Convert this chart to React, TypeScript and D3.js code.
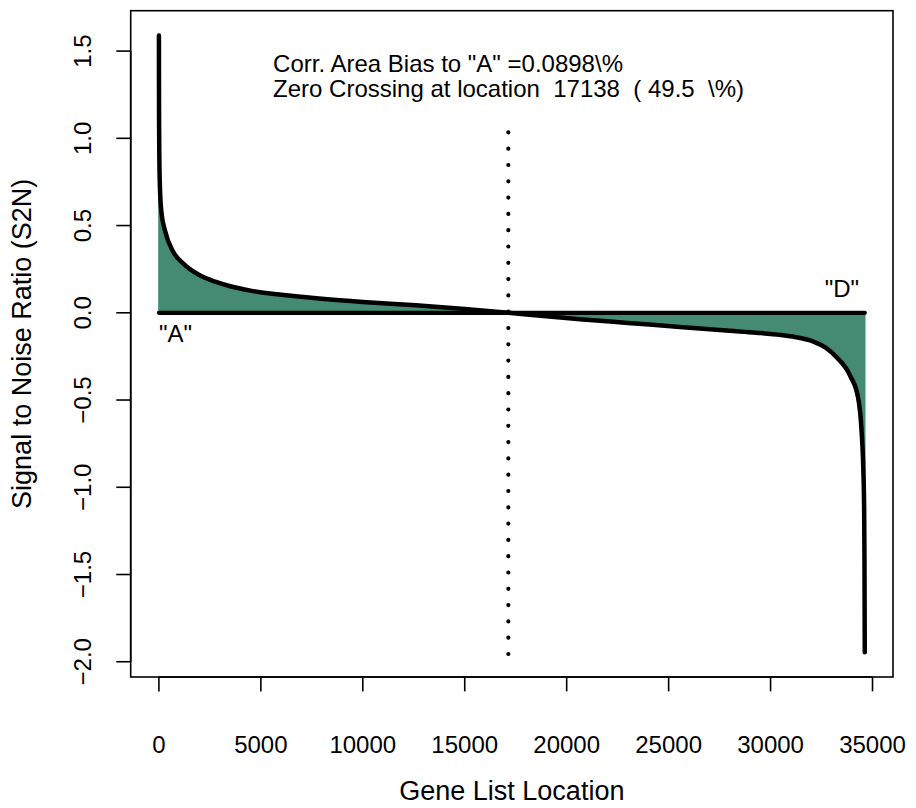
import React, { useEffect, useRef } from 'react';
import * as d3 from 'd3';

// ranked gene list: location and signal-to-noise value
const geneIndex = [
    1, 3, 8, 20, 50, 120, 300, 700, 1200, 2000, 2800, 3500, 4500, 6000, 8000, 10000,
    12600, 15000, 17138, 19000, 20800, 23000, 25700, 28000, 29300, 30500, 31400, 32100, 32700, 33240, 33900,
    34300, 34465, 34545, 34590, 34605, 34620
];
const s2nValue = [
    1.59, 1.35, 1.1, 0.9, 0.72, 0.58, 0.47, 0.35, 0.282, 0.215, 0.177, 0.152, 0.127, 0.103, 0.08, 0.062,
    0.043, 0.022, 0, -0.02, -0.038, -0.058, -0.083, -0.103, -0.114, -0.127, -0.143, -0.165, -0.2, -0.255, -0.36,
    -0.49, -0.68, -0.88, -1.13, -1.4, -1.946
];

// the filled polygon only reaches these values at both ends
const fillTop = 0.75;
const fillBottom = -1.13;

const zeroCrossing = 17138;
const crossingLineTop = 1.034;
const crossingLineBottom = -1.96;

const xTicks = [0, 5000, 10000, 15000, 20000, 25000, 30000, 35000];
const yTicks = [1.5, 1.0, 0.5, 0.0, -0.5, -1.0, -1.5, -2.0];
const yTickLabels = ['1.5', '1.0', '0.5', '0.0', '\u22120.5', '\u22121.0', '\u22121.5', '\u22122.0'];

const infoLines = ['Corr. Area Bias to "A" =0.0898\\%', 'Zero Crossing at location  17138  ( 49.5  \\%)'];
const infoPos = { x: 5600, y: 1.378 };
const labelA = { text: '"A"', x: 1, y: -0.167 };
const labelD = { text: '"D"', x: 34340, y: 0.09 };

const xTitle = 'Gene List Location';
const yTitle = 'Signal to Noise Ratio (S2N)';

const W = 916;
const H = 808;
const FONT = '"Liberation Sans", Arial, Helvetica, sans-serif';
const FILL = '#458b74';

export default function App() {
    const ref = useRef<SVGSVGElement | null>(null);

    useEffect(() => {
        const svg = d3.select(ref.current);
        svg.selectAll('*').remove();

        const plot = { left: 130.7, right: 893, top: 10.7, bottom: 677 };

        // R style axis extension: 4% on each side of the data range
        const [x0, x1] = d3.extent(geneIndex) as [number, number];
        const [y0, y1] = d3.extent(s2nValue) as [number, number];
        const px = (x1 - x0) * 0.04;
        const py = (y1 - y0) * 0.04;

        const x = d3.scaleLinear().domain([x0 - px, x1 + px]).range([plot.left, plot.right]);
        const y = d3.scaleLinear().domain([y0 - py, y1 + py]).range([plot.bottom, plot.top]);

        const data = geneIndex.map((g, i) => ({ g, v: s2nValue[i] }));

        // filled area
        const area = d3.area<{ g: number; v: number }>()
            .curve(d3.curveMonotoneX)
            .x((d) => x(d.g))
            .y0(y(0))
            .y1((d) => y(Math.max(fillBottom, Math.min(fillTop, d.v))));

        svg.append('path')
            .datum(data)
            .attr('d', area)
            .attr('fill', FILL)
            .attr('stroke', FILL)
            .attr('stroke-width', 1.5);

        // zero line
        svg.append('line')
            .attr('x1', x(x0))
            .attr('x2', x(x1))
            .attr('y1', y(0))
            .attr('y2', y(0))
            .attr('stroke', '#000')
            .attr('stroke-width', 4.3)
            .attr('stroke-linecap', 'round');

        // S2N curve
        const line = d3.line<{ g: number; v: number }>()
            .curve(d3.curveMonotoneX)
            .x((d) => x(d.g))
            .y((d) => y(d.v));

        svg.append('path')
            .datum(data)
            .attr('d', line)
            .attr('fill', 'none')
            .attr('stroke', '#000')
            .attr('stroke-width', 4.5)
            .attr('stroke-linecap', 'round')
            .attr('stroke-linejoin', 'round');

        // dotted zero crossing marker
        svg.append('line')
            .attr('x1', x(zeroCrossing))
            .attr('x2', x(zeroCrossing))
            .attr('y1', y(crossingLineTop))
            .attr('y2', y(crossingLineBottom))
            .attr('stroke', '#000')
            .attr('stroke-width', 4.2)
            .attr('stroke-linecap', 'round')
            .attr('stroke-dasharray', '0 16.3');

        // box
        svg.append('rect')
            .attr('x', plot.left)
            .attr('y', plot.top)
            .attr('width', plot.right - plot.left)
            .attr('height', plot.bottom - plot.top)
            .attr('fill', 'none')
            .attr('stroke', '#000')
            .attr('stroke-width', 1.6);

        const tick = 14.4;

        // x axis
        const gx = svg.append('g').attr('font-size', 24);
        gx.append('line')
            .attr('x1', x(xTicks[0]))
            .attr('x2', x(xTicks[xTicks.length - 1]))
            .attr('y1', plot.bottom)
            .attr('y2', plot.bottom)
            .attr('stroke', '#000')
            .attr('stroke-width', 1.6);
        gx.selectAll('line.tick')
            .data(xTicks)
            .join('line')
            .attr('class', 'tick')
            .attr('x1', (d) => x(d))
            .attr('x2', (d) => x(d))
            .attr('y1', plot.bottom)
            .attr('y2', plot.bottom + tick)
            .attr('stroke', '#000')
            .attr('stroke-width', 1.6);
        gx.selectAll('text')
            .data(xTicks)
            .join('text')
            .attr('x', (d) => x(d))
            .attr('y', plot.bottom + 76)
            .attr('text-anchor', 'middle')
            .text((d) => String(d));

        // y axis
        const gy = svg.append('g').attr('font-size', 24);
        gy.append('line')
            .attr('x1', plot.left)
            .attr('x2', plot.left)
            .attr('y1', y(yTicks[0]))
            .attr('y2', y(yTicks[yTicks.length - 1]))
            .attr('stroke', '#000')
            .attr('stroke-width', 1.6);
        gy.selectAll('line.tick')
            .data(yTicks)
            .join('line')
            .attr('class', 'tick')
            .attr('x1', plot.left - tick)
            .attr('x2', plot.left)
            .attr('y1', (d) => y(d))
            .attr('y2', (d) => y(d))
            .attr('stroke', '#000')
            .attr('stroke-width', 1.6);
        gy.selectAll('text')
            .data(yTicks)
            .join('text')
            .attr('transform', (d) => `translate(${plot.left - 40}, ${y(d)}) rotate(-90)`)
            .attr('text-anchor', 'middle')
            .text((_, i) => yTickLabels[i]);

        // titles
        svg.append('text')
            .attr('x', (plot.left + plot.right) / 2)
            .attr('y', plot.bottom + 123)
            .attr('text-anchor', 'middle')
            .attr('font-size', 27)
            .text(xTitle);

        svg.append('text')
            .attr('transform', `translate(31, ${(plot.top + plot.bottom) / 2}) rotate(-90)`)
            .attr('text-anchor', 'middle')
            .attr('font-size', 27)
            .text(yTitle);

        // annotations
        svg.append('g')
            .selectAll('text')
            .data(infoLines)
            .join('text')
            .attr('x', x(infoPos.x))
            .attr('y', (_, i) => y(infoPos.y) + i * 25)
            .attr('font-size', 24)
            .style('white-space', 'pre')
            .text((d) => d);

        svg.append('text')
            .attr('x', x(labelA.x))
            .attr('y', y(labelA.y))
            .attr('font-size', 24)
            .text(labelA.text);

        svg.append('text')
            .attr('x', x(labelD.x))
            .attr('y', y(labelD.y))
            .attr('font-size', 24)
            .attr('text-anchor', 'end')
            .text(labelD.text);
    }, []);

    return (
        <svg
            ref={ref}
            width={W}
            height={H}
            viewBox={`0 0 ${W} ${H}`}
            style={{ position: 'absolute', left: 0, top: 0, background: '#fff' }}
            fontFamily={FONT}
            fill="#000"
        />
    );
}
